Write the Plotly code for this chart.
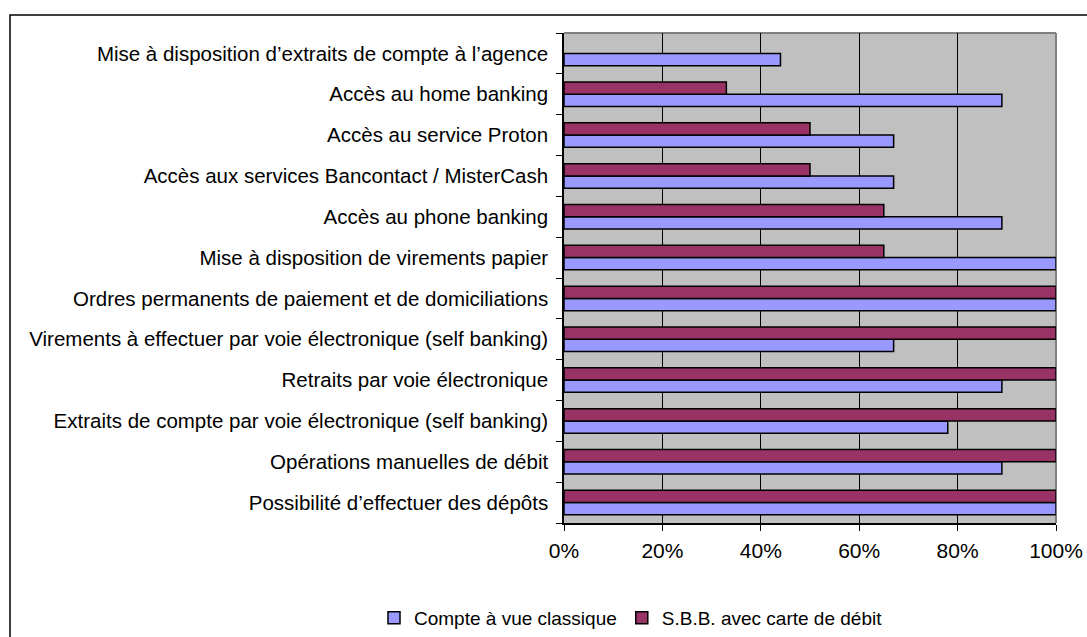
import plotly.graph_objects as go

# Categories listed bottom -> top (Excel order)
categories = [
    "Possibilité d’effectuer des dépôts",
    "Opérations manuelles de débit",
    "Extraits de compte par voie électronique (self banking)",
    "Retraits par voie électronique",
    "Virements à effectuer par voie électronique (self banking)",
    "Ordres permanents de paiement et de domiciliations",
    "Mise à disposition de virements papier",
    "Accès au phone banking",
    "Accès aux services Bancontact / MisterCash",
    "Accès au service Proton",
    "Accès au home banking",
    "Mise à disposition d’extraits de compte à l’agence",
]
classique = [100, 89, 78, 89, 67, 100, 100, 89, 67, 67, 89, 44]
sbb = [100, 100, 100, 100, 100, 100, 65, 65, 50, 50, 33, None]
series_names = ["Compte à vue classique", "S.B.B. avec carte de débit"]
x_ticks = [0, 20, 40, 60, 80, 100]
x_tick_labels = ["0%", "20%", "40%", "60%", "80%", "100%"]

W, H = 1087, 637
L, R, T, B = 564, 1056, 33, 523

fig = go.Figure()
fig.add_trace(go.Bar(
    y=categories, x=classique, orientation="h", name=series_names[0],
    marker=dict(color="#9999FF", line=dict(color="#000000", width=1.5)),
))
fig.add_trace(go.Bar(
    y=categories, x=sbb, orientation="h", name=series_names[1],
    marker=dict(color="#993366", line=dict(color="#000000", width=1.5)),
))

font_family = "Liberation Sans, Arial, sans-serif"

def px_x(px):
    return (px - L) / (R - L)

def px_y(py):
    return (B - py) / (B - T)

fig.update_layout(
    width=W, height=H,
    margin=dict(l=L, r=W - R, t=T, b=H - B, pad=0, autoexpand=False),
    paper_bgcolor="white",
    plot_bgcolor="#C0C0C0",
    barmode="group",
    bargap=0.4,
    bargroupgap=0.0,
    font=dict(family=font_family, size=20, color="black"),
    showlegend=True,
    legend=dict(
        orientation="h", x=px_x(374), xanchor="left",
        xref="paper", yref="paper", y=px_y(618), yanchor="middle",
        font=dict(size=19), traceorder="normal",
        itemwidth=30, borderwidth=0,
        bgcolor="rgba(0,0,0,0)",
    ),
    xaxis=dict(
        range=[0, 100], tickvals=x_ticks, ticktext=x_tick_labels,
        showgrid=True, gridcolor="black", gridwidth=1,
        ticks="outside", ticklen=6, tickcolor="black",
        showline=True, linecolor="black", linewidth=1.5,
        tickfont=dict(size=21), zeroline=False, automargin=False,
        ticklabelstandoff=2,
    ),
    yaxis=dict(
        type="category", ticks="outside", tickson="boundaries",
        ticklen=6, tickcolor="black", showline=True, linecolor="black",
        linewidth=1.5, showgrid=False, tickfont=dict(size=20.5),
        automargin=False, ticklabelstandoff=10,
    ),
    shapes=[
        dict(type="line", xref="paper", yref="paper",
             x0=0, x1=1, y0=1, y1=1,
             line=dict(color="#808080", width=2), layer="below"),
        dict(type="line", xref="paper", yref="paper",
             x0=1, x1=1, y0=0, y1=1,
             line=dict(color="#808080", width=2), layer="below"),
        dict(type="rect", xref="paper", yref="paper",
             x0=px_x(10), x1=px_x(1100), y0=px_y(660), y1=px_y(15),
             line=dict(color="black", width=1.5), fillcolor="rgba(0,0,0,0)"),
    ],
)

fig.write_html(
    "out.html",
    config={"displayModeBar": False},
    post_script="document.body.style.margin='0';document.body.style.overflow='hidden';",
)
